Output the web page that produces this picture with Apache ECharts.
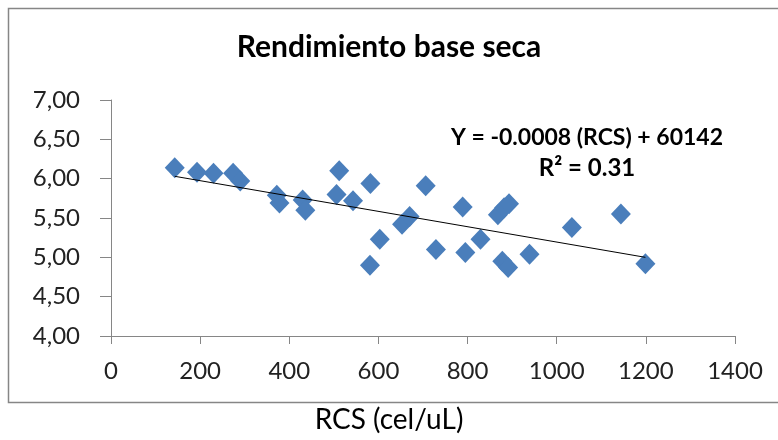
<!DOCTYPE html>
<html>
<head>
<meta charset="utf-8">
<script src="https://cdn.jsdelivr.net/npm/echarts@6/dist/echarts.min.js"></script>
<style>
html,body{margin:0;padding:0;background:#fff;}
#chart{width:778px;height:440px;}
</style>
</head>
<body>
<div id="chart"></div>
<script>
// Data
const rcs = [143, 193, 230, 274, 290, 372, 378, 430, 436, 512, 506, 543, 582, 581, 603, 653, 670, 706, 729, 789, 795, 829, 868, 882, 893, 878, 891, 939, 1034, 1144, 1199];
const rendimiento = [6.14, 6.08, 6.07, 6.07, 5.97, 5.79, 5.69, 5.73, 5.60, 6.10, 5.80, 5.72, 5.94, 4.90, 5.23, 5.42, 5.52, 5.91, 5.10, 5.64, 5.06, 5.23, 5.54, 5.63, 5.68, 4.95, 4.87, 5.04, 5.38, 5.55, 4.92];
const trendX = [143, 1199];
const trendY = [6.03, 5.00];
const xTicks = [0, 200, 400, 600, 800, 1000, 1200, 1400];
const yTicks = ['4,00', '4,50', '5,00', '5,50', '6,00', '6,50', '7,00'];
const titleText = 'Rendimiento base seca';
const xAxisTitle = 'RCS (cel/uL)';
const eqLine1 = 'Y = -0.0008 (RCS) + 60142';
const eqLine2 = 'R² = 0.31';

const FONT = 'Lato';
const chart = echarts.init(document.getElementById('chart'), null, {renderer: 'canvas'});

const points = rcs.map((x, i) => [x, rendimiento[i]]);
const trend = trendX.map((x, i) => [x, trendY[i]]);

chart.setOption({
  animation: false,
  backgroundColor: '#ffffff',
  textStyle: {fontFamily: FONT},
  title: {
    text: titleText,
    left: 'center',
    top: 27,
    textStyle: {fontFamily: FONT, fontWeight: 'bold', fontSize: 30, color: '#000'}
  },
  grid: {left: 111, right: 43, top: 100, bottom: 104, containLabel: false},
  xAxis: {
    type: 'value',
    min: 0, max: 1400, interval: 200,
    splitLine: {show: false},
    axisLine: {show: true, lineStyle: {color: '#868686', width: 1}},
    axisTick: {show: true, inside: false, length: 8, lineStyle: {color: '#868686'}},
    axisLabel: {
      margin: 23, fontFamily: FONT, fontSize: 24, color: '#222',
      formatter: v => xTicks.indexOf(v) >= 0 ? String(v) : ''
    }
  },
  yAxis: {
    type: 'value',
    min: 4, max: 7, interval: 0.5,
    splitLine: {show: false},
    axisLine: {show: true, lineStyle: {color: '#868686', width: 1}},
    axisTick: {show: true, length: 11, lineStyle: {color: '#868686'}},
    axisLabel: {
      margin: 31, fontFamily: FONT, fontSize: 24, color: '#222',
      formatter: v => yTicks[Math.round((v - 4) / 0.5)] || ''
    }
  },
  series: [
    {
      type: 'scatter',
      data: points,
      symbol: 'diamond',
      symbolSize: [20, 21],
      itemStyle: {color: '#4a7ebb', opacity: 1},
      z: 2
    },
    {
      type: 'line',
      data: trend,
      symbol: 'none',
      lineStyle: {color: '#000', width: 1},
      z: 3
    }
  ],
  graphic: [
    {
      type: 'rect',
      shape: {x: 8.5, y: 8.5, width: 800, height: 394},
      style: {fill: 'none', stroke: '#868686', lineWidth: 1.5},
      silent: true
    },
    {
      type: 'text',
      left: 'center',
      top: 406,
      style: {text: xAxisTitle, font: '28px ' + FONT, fill: '#000'}
    },
    {
      type: 'text',
      x: 587, y: 138,
      style: {text: eqLine1, font: 'bold 23px ' + FONT, fill: '#000', align: 'center', verticalAlign: 'middle'}
    },
    {
      type: 'text',
      x: 587, y: 168,
      style: {text: eqLine2, font: 'bold 24px ' + FONT, fill: '#000', align: 'center', verticalAlign: 'middle'}
    }
  ]
});
</script>
</body>
</html>
